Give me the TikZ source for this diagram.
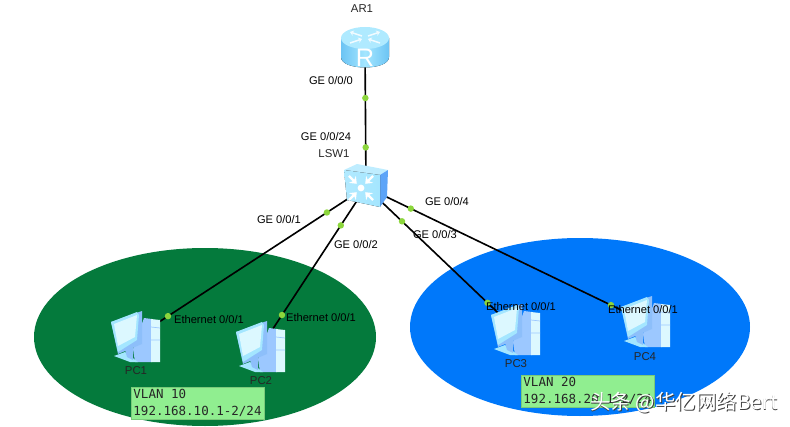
\documentclass[tikz,border=0pt]{standalone}
\usepackage{fontspec}
\setmainfont{Liberation Sans}
\setmonofont{DejaVu Sans Mono}
\newfontfamily\cjk{Noto Sans CJK SC}
\usetikzlibrary{arrows.meta}

\definecolor{vlangreen}{HTML}{047A3C}
\definecolor{vlanblue}{HTML}{0078FA}
\definecolor{notegreen}{HTML}{90EE90}
\definecolor{portgreen}{HTML}{8CD63C}
\definecolor{iconlight}{HTML}{DCF8FF}
\definecolor{iconmid}{HTML}{A4E6FF}
\definecolor{icondark}{HTML}{6CC4F4}
\definecolor{iconsteel}{HTML}{9CC8FF}
\definecolor{iconside}{HTML}{5CA4F8}

\tikzset{
    anchorbox/.style={inner sep=0pt, minimum size=2pt},
    link/.style={line width=1.15pt, black},
    portdot/.style={circle, fill=portgreen, inner sep=0pt, minimum size=4.6pt},
    portlabel/.style={font=\fontsize{7.9}{9}\selectfont, text=black, inner sep=0pt},
    hostlabel/.style={font=\fontsize{8.1}{9}\selectfont, text=black!85, inner sep=0pt},
    notebox/.style={fill=notegreen, draw=notegreen!85!black, line width=0.3pt, inner sep=0pt,
        minimum width=133*0.025cm, minimum height=32*0.025cm, align=left, text=black!85,
        font=\ttfamily\fontsize{8.9}{11.5}\selectfont},
    router/.pic={
        \fill[left color=icondark, right color=icondark, middle color=iconmid]
            (-24,-10) -- (-24,9) .. controls (-24,23) and (24,23) .. (24,9) -- (24,-10) -- cycle;
        \fill[iconmid!80!iconlight] (0,-10) ellipse (24 and 11);
        \foreach \from/\to in {-3/-15,3/15}{
            \draw[white!85!iconmid, line width=1.1pt, -{Stealth[length=2.6pt,width=4pt]}]
                (\from,-12) -- (\to,-16);
            \draw[white!85!iconmid, line width=1.1pt, -{Stealth[length=2.6pt,width=4pt]}]
                (\to,-5) -- (\from,-9);
        }
        \node[font=\fontsize{18}{18}\selectfont, text=white, inner sep=0pt] (rmark) at (0,10) {R};
    },
    switchbox/.pic={
        \fill[iconmid!70!white] (-22,-17) -- (-9,-23) -- (22,-17) -- (14,-12) -- cycle;
        \fill[iconside] (14,-12) -- (22,-17) -- (21,10) -- (14,20) -- cycle;
        \fill[left color=iconmid!85!white, right color=iconmid] (-22,-17) -- (14,-12) -- (14,20) -- (-19,13) -- cycle;
        \fill[white] (-5,1) circle (3.4);
        \foreach \a in {45,135,225,315}
            \draw[white, line width=1.6pt, -{Stealth[length=4.4pt,width=7pt]}, shift={(-5,1)}, rotate=\a]
                (17,0) -- (6,0);
    },
    pcbox/.pic={
        % tower
        \fill[iconsteel] (8,-19) -- (16,-18) -- (16,25) -- (-1,25) -- (-3,12) -- cycle;
        \fill[iconlight] (15,-18) -- (24,-17) -- (24,25) -- (15,25) -- cycle;
        \draw[iconsteel, line width=0.5pt] (15,-10) -- (24,-9) (15,3) -- (24,3);
        % stand
        \fill[iconmid] (-22,19) -- (-11,15) -- (2,25) -- (-6,25) -- cycle;
        \fill[iconside!70!white] (-11,13) -- (-3,10) -- (-3,23) -- (-9,20) -- cycle;
        % monitor
        \fill[iconside!70!white] (-25,-15) -- (6,-26) -- (6,7) -- (-18,17) -- cycle;
        \fill[iconmid] (-25,-15) -- (1,-25) -- (3,-22) -- (1,3) -- (-18,15) -- cycle;
        \fill[iconlight] (-22,-13) -- (1,-22) -- (-1,0) -- (-18,9) -- cycle;
    },
}

\begin{document}
\begin{tikzpicture}[x=0.025cm, y=-0.025cm]
    \useasboundingbox (0,0) rectangle (790,427);

    % ===== VLAN areas =====
    \fill[vlangreen] (205,337) ellipse (171 and 89);
    \fill[vlanblue] (580,327) ellipse (170 and 89);

    % ===== Devices (anchors) =====
    \node[anchorbox] (ar1) at (365,48) {};
    \node[anchorbox] (lsw1) at (366,187) {};
    \node[anchorbox] (pc1) at (136,337) {};
    \node[anchorbox] (pc2) at (261,347) {};
    \node[anchorbox] (pc3) at (516,330) {};
    \node[anchorbox] (pc4) at (646,322) {};

    % ===== Links =====
    \draw[link] (ar1.center) -- (lsw1.center)
        node[portdot, pos=0.36] (p0) {} node[portdot, pos=0.715] (p24) {};
    \draw[link] (lsw1.center) -- (pc1.center)
        node[portdot, pos=0.17] (p1) {} node[portdot, pos=0.861] (e1) {};
    \draw[link] (lsw1.center) -- (pc2.center)
        node[portdot, pos=0.24] (p2) {} node[portdot, pos=0.80] (e2) {};
    \draw[link] (lsw1.center) -- (pc3.center)
        node[portdot, pos=0.24] (p3) {} node[portdot, pos=0.81] (e3) {};
    \draw[link] (lsw1.center) -- (pc4.center)
        node[portdot, pos=0.16] (p4) {} node[portdot, pos=0.875] (e4) {};

    % ===== Icons =====
    \pic at (ar1) {router};
    \pic at (lsw1) {switchbox};
    \pic at (pc1) {pcbox};
    \pic at (pc2) {pcbox};
    \pic at (pc3) {pcbox};
    \pic at (pc4) {pcbox};

    % ===== Device labels =====
    \node[hostlabel] (ar1text) at (362,9) {AR1};
    \node[hostlabel] (lsw1text) at (334,154) {LSW1};
    \node[hostlabel] (pc1text) at (136,371) {PC1};
    \node[hostlabel] (pc2text) at (261,381) {PC2};
    \node[hostlabel] (pc3text) at (516,364) {PC3};
    \node[hostlabel] (pc4text) at (645,357) {PC4};

    % ===== Port labels =====
    \node[portlabel] (l0) at (331,81) {GE 0/0/0};
    \node[portlabel] (l24) at (326,137) {GE 0/0/24};
    \node[portlabel] (l1) at (279,220) {GE 0/0/1};
    \node[portlabel] (l2) at (356,245) {GE 0/0/2};
    \node[portlabel] (l3) at (435,235) {GE 0/0/3};
    \node[portlabel] (l4) at (447,202) {GE 0/0/4};
    \node[portlabel] (le1) at (209,320) {Ethernet 0/0/1};
    \node[portlabel] (le2) at (321,318) {Ethernet 0/0/1};
    \node[portlabel] (le3) at (521,307) {Ethernet 0/0/1};
    \node[portlabel] (le4) at (643,310) {Ethernet 0/0/1};

    % ===== VLAN notes =====
    \node[notebox] (note10) at (197.5,403) {VLAN 10\\192.168.10.1-2/24};
    \node[notebox] (note20) at (587.5,391) {VLAN 20\\192.168.20.1-2/24};

    % ===== Watermark =====
    \node[font=\cjk\fontsize{14.6}{15}\selectfont, text=black!75, inner sep=0pt] (markshadow) at (684.8,403.8) {头条 @华亿网络Bert};
    \node[font=\cjk\fontsize{14.6}{15}\selectfont, text=white, inner sep=0pt] (mark) at (684,403) {头条 @华亿网络Bert};
\end{tikzpicture}
\end{document}
